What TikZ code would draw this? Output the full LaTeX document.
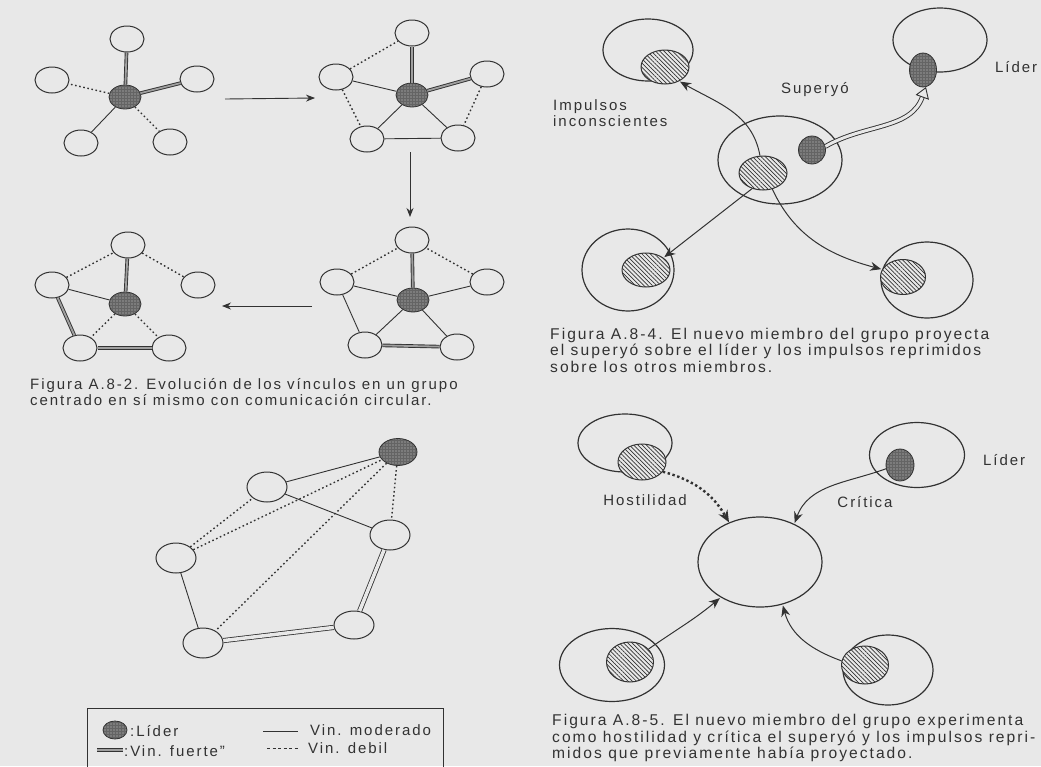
\documentclass[tikz,border=0pt]{standalone}
\usepackage{fontspec}
\setmainfont{Liberation Sans}
\newfontfamily\scanfont[LetterSpace=13]{Liberation Sans}
\usetikzlibrary{shapes.geometric,arrows.meta,patterns.meta}
\definecolor{Paper}{RGB}{232,232,232}
\definecolor{Ink}{RGB}{50,50,50}
\definecolor{Lead}{RGB}{100,100,100}

\tikzset{
  memb/.style={ellipse, draw=Ink, line width=1pt, minimum width=34pt, minimum height=26pt, inner sep=0pt},
  lider/.style={ellipse, draw=Ink, line width=0.8pt, preaction={fill=Lead}, pattern={Dots[distance=3pt,radius=0.6pt]}, pattern color=black!20, minimum width=32pt, minimum height=24pt, inner sep=0pt},
  fuerte/.style={draw=Ink, line width=0.9pt, double=Paper!60!Ink, double distance=1.8pt},
  moderado/.style={draw=Ink, line width=0.9pt},
  debil/.style={draw=Ink, line width=1.4pt, dash pattern=on 1.6pt off 2.6pt},
  paso/.style={draw=Ink, line width=0.9pt, -{Stealth[length=9pt,width=7pt]}},
  yo/.style={ellipse, draw=Ink, line width=1.2pt, inner sep=0pt},
  rayado/.style={ellipse, draw=Ink, line width=1pt, preaction={fill=Paper}, pattern={Lines[angle=-45,distance=3pt,line width=0.7pt]}, pattern color=Ink, minimum width=48pt, minimum height=34pt, inner sep=0pt},
  proy/.style={draw=Ink, line width=1pt, shorten >=1pt, -{Stealth[length=11pt,width=9pt]}},
  hostil/.style={draw=Ink, line width=2.4pt, dash pattern=on 2.4pt off 2.6pt, -{Stealth[length=12pt,width=10pt]}},
  hueco/.style={draw=Ink, line width=0.9pt, double=Paper, double distance=3pt, -{Triangle[open,length=11pt,width=14pt]}},
  rotulo/.style={font={\scanfont\fontsize{15}{16.5}\selectfont}, text=Ink, inner sep=0pt},
  pie/.style={font={\scanfont\fontsize{15.6}{16.5}\selectfont}, text=Ink, inner sep=0pt, align=left},
}

\begin{document}
\begin{tikzpicture}[x=1pt, y=1pt]
\useasboundingbox (0,0) rectangle (1041,-766);
\fill[Paper] (0,0) rectangle (1041,-766);

% Figura A.8-2, primer paso
\node[lider] (aL) at (125,-97) {};
\node[memb] (aN) at (127,-39) {};
\node[memb] (aW) at (52,-80) {};
\node[memb] (aE) at (197,-79) {};
\node[memb] (aSW) at (81,-143) {};
\node[memb] (aSE) at (170,-142) {};
\draw[fuerte] (aL) -- (aN);
\draw[debil] (aL) -- (aW);
\draw[fuerte] (aL) -- (aE);
\draw[moderado] (aL) -- (aSW);
\draw[debil] (aL) -- (aSE);

% segundo paso
\node[lider] (bL) at (412,-95) {};
\node[memb] (bN) at (412,-33) {};
\node[memb] (bW) at (336,-77) {};
\node[memb] (bE) at (487,-74) {};
\node[memb] (bSW) at (367,-139) {};
\node[memb] (bSE) at (458,-138) {};
\draw[fuerte] (bL) -- (bN);
\draw[fuerte] (bL) -- (bE);
\draw[moderado] (bL) -- (bW);
\draw[moderado] (bL) -- (bSW);
\draw[moderado] (bL) -- (bSE);
\draw[moderado] (bSW) -- (bSE);
\draw[debil] (bW) -- (bN);
\draw[debil] (bW) -- (bSW);
\draw[debil] (bE) -- (bSE);

% tercer paso
\node[lider] (cL) at (413,-300) {};
\node[memb] (cN) at (412,-240) {};
\node[memb] (cW) at (337,-282) {};
\node[memb] (cE) at (487,-282) {};
\node[memb] (cSW) at (365,-345) {};
\node[memb] (cSE) at (457,-347) {};
\draw[fuerte] (cL) -- (cN);
\draw[debil] (cW) -- (cN);
\draw[debil] (cE) -- (cN);
\draw[moderado] (cL) -- (cW);
\draw[moderado] (cL) -- (cE);
\draw[moderado] (cL) -- (cSW);
\draw[moderado] (cL) -- (cSE);
\draw[moderado] (cW) -- (cSW);
\draw[fuerte] (cSW) -- (cSE);

% cuarto paso
\node[lider] (dL) at (125,-304) {};
\node[memb] (dN) at (128,-245) {};
\node[memb] (dW) at (52,-285) {};
\node[memb] (dE) at (198,-285) {};
\node[memb] (dSW) at (80,-348) {};
\node[memb] (dSE) at (169,-348) {};
\draw[fuerte] (dL) -- (dN);
\draw[debil] (dW) -- (dN);
\draw[debil] (dN) -- (dE);
\draw[moderado] (dL) -- (dW);
\draw[fuerte] (dW) -- (dSW);
\draw[fuerte] (dSW) -- (dSE);
\draw[debil] (dL) -- (dSW);
\draw[debil] (dL) -- (dSE);

% flechas entre pasos
\coordinate (ab1) at (225,-99);
\coordinate (ab2) at (315,-98);
\coordinate (bc1) at (410,-152);
\coordinate (bc2) at (410,-217);
\coordinate (cd1) at (312,-306);
\coordinate (cd2) at (222,-306);
\draw[paso] (ab1) -- (ab2);
\draw[paso] (bc1) -- (bc2);
\draw[paso] (cd1) -- (cd2);

\node[rotulo, anchor=west, align=left] (capA) at (30,-392) {Figura A.8-2. Evolución de los vínculos en un grupo\\centrado en sí mismo con comunicación circular.};

% red del grupo y leyenda
\node[lider, minimum width=38pt, minimum height=27pt] (eL) at (398,-452) {};
\node[memb, minimum width=40pt, minimum height=30pt] (eN) at (267,-487) {};
\node[memb, minimum width=40pt, minimum height=30pt] (eW) at (176,-558) {};
\node[memb, minimum width=40pt, minimum height=30pt] (eE) at (390,-535) {};
\node[memb, minimum width=40pt, minimum height=30pt] (eSW) at (203,-643) {};
\node[memb, minimum width=40pt, minimum height=28pt] (eSE) at (354,-625) {};
\draw[moderado] (eN) -- (eL);
\draw[moderado] (eN) -- (eE);
\draw[debil] (eL) -- (eE);
\draw[debil] (eW) -- (eN);
\draw[debil] (eW) -- (eL);
\draw[debil] (eL) -- (eSW);
\draw[moderado] (eW) -- (eSW);
\draw[fuerte, double=Paper, double distance=3.5pt, line width=0.8pt] (eSW) -- (eSE);
\draw[fuerte, double=Paper, double distance=3.5pt, line width=0.8pt] (eSE) -- (eE);

\draw[Ink, line width=0.9pt] (87,-770) -- (87,-708) -- (443,-708) -- (443,-770);
\node[lider, minimum width=24pt, minimum height=18pt] (kL) at (115,-730) {};
\node[rotulo, anchor=west] (kLt) at (130,-731) {:Líder};
\coordinate (km1) at (263,-731);
\coordinate (km2) at (298,-731);
\draw[moderado] (km1) -- (km2);
\node[rotulo, anchor=west] (kMt) at (310,-730) {Vin. moderado};
\coordinate (kf1) at (97,-750);
\coordinate (kf2) at (123,-750);
\draw[fuerte] (kf1) -- (kf2);
\node[rotulo, anchor=west] (kFt) at (124,-751) {:Vin. fuerte”};
\coordinate (kd1) at (267,-748);
\coordinate (kd2) at (298,-748);
\draw[Ink, line width=0.9pt, dash pattern=on 3pt off 2.5pt] (kd1) -- (kd2);
\node[rotulo, anchor=west] (kDt) at (308,-748) {Vin. debil};

% Figura A.8-4
\node[yo, minimum width=90pt, minimum height=62pt] (fNW) at (648,-50) {};
\node[rayado] (fNWi) at (665,-67) {};
\node[yo, minimum width=94pt, minimum height=64pt] (fNE) at (940,-40) {};
\node[lider, minimum width=27pt, minimum height=34pt] (fNEl) at (923,-70) {};
\node[yo, minimum width=124pt, minimum height=88pt] (fC) at (780,-160) {};
\node[rayado] (fCi) at (763,-173) {};
\node[lider, minimum width=27pt, minimum height=28pt] (fCl) at (812,-150) {};
\node[yo, minimum width=92pt, minimum height=82pt] (fSW) at (628,-270) {};
\node[rayado] (fSWi) at (646,-270) {};
\node[yo, minimum width=92pt, minimum height=76pt] (fSE) at (927,-280) {};
\node[rayado, minimum width=45pt, minimum height=35pt] (fSEi) at (903,-277) {};
\draw[proy] (fCi.100) to[out=100, in=-30] (fNWi.-45);
\draw[hueco] (fCl.15) to[out=30, in=-110] (fNEl.-80);
\draw[proy] (fCi.-125) -- (fSWi.35);
\draw[proy] (fCi.-60) to[out=-65, in=165] (fSEi.160);
\node[rotulo] (superyo) at (815,-90) {Superyó};
\node[rotulo, anchor=west, align=left] (impulsos) at (553,-113) {Impulsos\\inconscientes};
\node[rotulo, anchor=west] (liderF) at (995,-67) {Líder};
\node[pie, anchor=west] (capF) at (550,-350) {Figura A.8-4. El nuevo miembro del grupo proyecta\\el superyó sobre el líder y los impulsos reprimidos\\sobre los otros miembros.};

% Figura A.8-5
\node[yo, minimum width=94pt, minimum height=58pt] (gNW) at (625,-443) {};
\node[rayado, minimum height=36pt] (gNWi) at (642,-462) {};
\node[yo, minimum width=95pt, minimum height=65pt] (gNE) at (917,-455) {};
\node[lider, minimum width=28pt, minimum height=32pt] (gNEl) at (900,-465) {};
\node[yo, minimum width=124pt, minimum height=90pt] (gC) at (760,-562) {};
\node[yo, minimum width=105pt, minimum height=73pt] (gSW) at (612,-665) {};
\node[rayado, minimum width=47pt, minimum height=40pt] (gSWi) at (630,-662) {};
\node[yo, minimum width=90pt, minimum height=70pt] (gSE) at (888,-670) {};
\node[rayado, minimum width=47pt, minimum height=38pt] (gSEi) at (865,-665) {};
\draw[hostil] (gNWi.-25) to[out=-15, in=120] (gC.128);
\draw[proy] (gNEl.-165) to[out=-160, in=70] (gC.48);
\draw[proy] (gSWi.35) to[out=35, in=-140] (gC.-138);
\draw[proy] (gSEi.170) to[out=160, in=-75] (gC.-62);
\node[rotulo] (hostilidad) at (645,-500) {Hostilidad};
\node[rotulo] (critica) at (865,-502) {Crítica};
\node[rotulo, anchor=west] (liderG) at (983,-460) {Líder};
\node[pie, anchor=west] (capG) at (552,-738) {Figura A.8-5. El nuevo miembro del grupo experimenta\\como hostilidad y crítica el superyó y los impulsos repri-\\midos que previamente había proyectado.};
\end{tikzpicture}
\end{document}
